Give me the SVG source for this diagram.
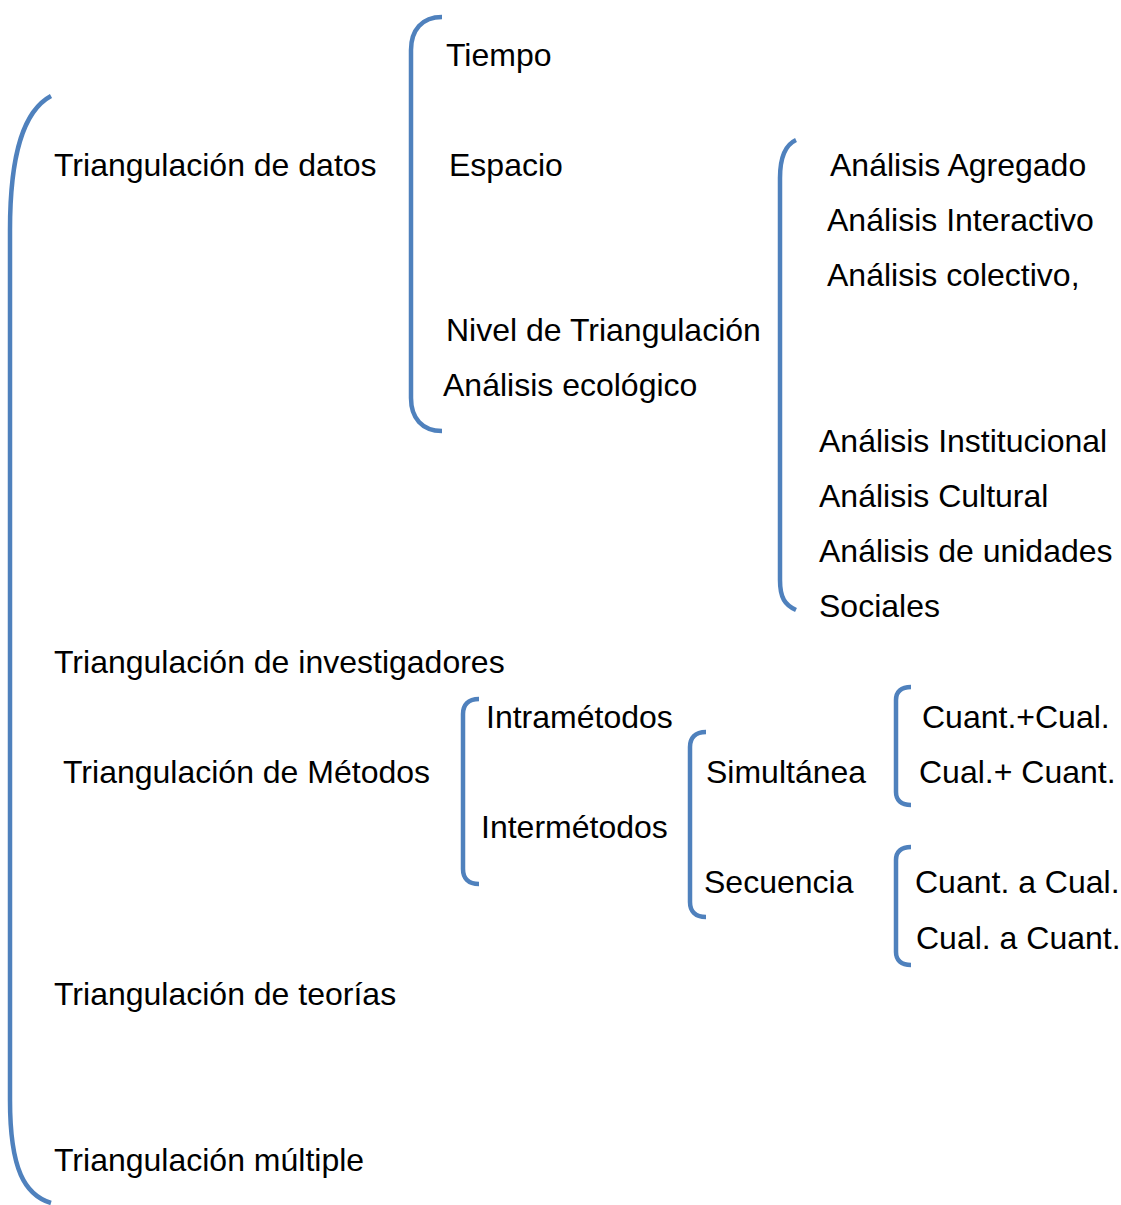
<svg xmlns="http://www.w3.org/2000/svg" width="1121" height="1205" viewBox="0 0 1121 1205">
<style>
text{font-family:"Liberation Sans",Arial,sans-serif;font-size:32px;fill:#000}
.br{fill:none;stroke:#4F81BD;stroke-width:4.5;stroke-linecap:butt}
</style>
<rect width="1121" height="1205" fill="#fff"/>
<g id="connectors">
<path class="br" d="M51,96 C25,110 10,150 10,230 L10,1100 C10,1170 25,1195 51,1203"/>
<path class="br" d="M442,17 C422,17 411,30 411,50 L411,398 C411,418 422,431 442,431"/>
<path class="br" d="M796,140 C785,145 780,158 780,178 L780,580 C780,598 785,605 796,610"/>
<path class="br" d="M479,699 C468,699 463,705 463,714 L463,869 C463,878 468,884 479,884"/>
<path class="br" d="M706,732 C695,732 690,738 690,747 L690,902 C690,911 695,917 706,917"/>
<path class="br" d="M911,687 C901,687 896,692 896,700 L896,792 C896,800 901,805 911,805"/>
<path class="br" d="M911,847 C901,847 896,852 896,860 L896,952 C896,960 901,965 911,965"/>
</g>
<g id="n-datos"><text x="54" y="176">Triangulación de datos</text></g>
<g id="n-tiempo"><text x="446" y="66">Tiempo</text></g>
<g id="n-espacio"><text x="449" y="176">Espacio</text></g>
<g id="n-nivel"><text x="446" y="341">Nivel de Triangulación</text></g>
<g id="n-ecologico"><text x="443" y="396">Análisis ecológico</text></g>
<g id="n-agregado"><text x="830" y="176">Análisis Agregado</text></g>
<g id="n-interactivo"><text x="827" y="231">Análisis Interactivo</text></g>
<g id="n-colectivo"><text x="827" y="286">Análisis colectivo,</text></g>
<g id="n-institucional"><text x="819" y="452">Análisis Institucional</text></g>
<g id="n-cultural"><text x="819" y="507">Análisis Cultural</text></g>
<g id="n-unidades"><text x="819" y="562">Análisis de unidades</text></g>
<g id="n-sociales"><text x="819" y="617">Sociales</text></g>
<g id="n-investigadores"><text x="54" y="673">Triangulación de investigadores</text></g>
<g id="n-metodos"><text x="63" y="783">Triangulación de Métodos</text></g>
<g id="n-intra"><text x="486" y="728">Intramétodos</text></g>
<g id="n-inter"><text x="481" y="838">Intermétodos</text></g>
<g id="n-simultanea"><text x="706" y="783">Simultánea</text></g>
<g id="n-secuencia"><text x="704" y="893">Secuencia</text></g>
<g id="n-cc1"><text x="922" y="728">Cuant.+Cual.</text></g>
<g id="n-cc2"><text x="919" y="783">Cual.+ Cuant.</text></g>
<g id="n-cc3"><text x="915" y="893">Cuant. a Cual.</text></g>
<g id="n-cc4"><text x="916" y="949">Cual. a Cuant.</text></g>
<g id="n-teorias"><text x="54" y="1005">Triangulación de teorías</text></g>
<g id="n-multiple"><text x="54" y="1171">Triangulación múltiple</text></g>
</svg>
